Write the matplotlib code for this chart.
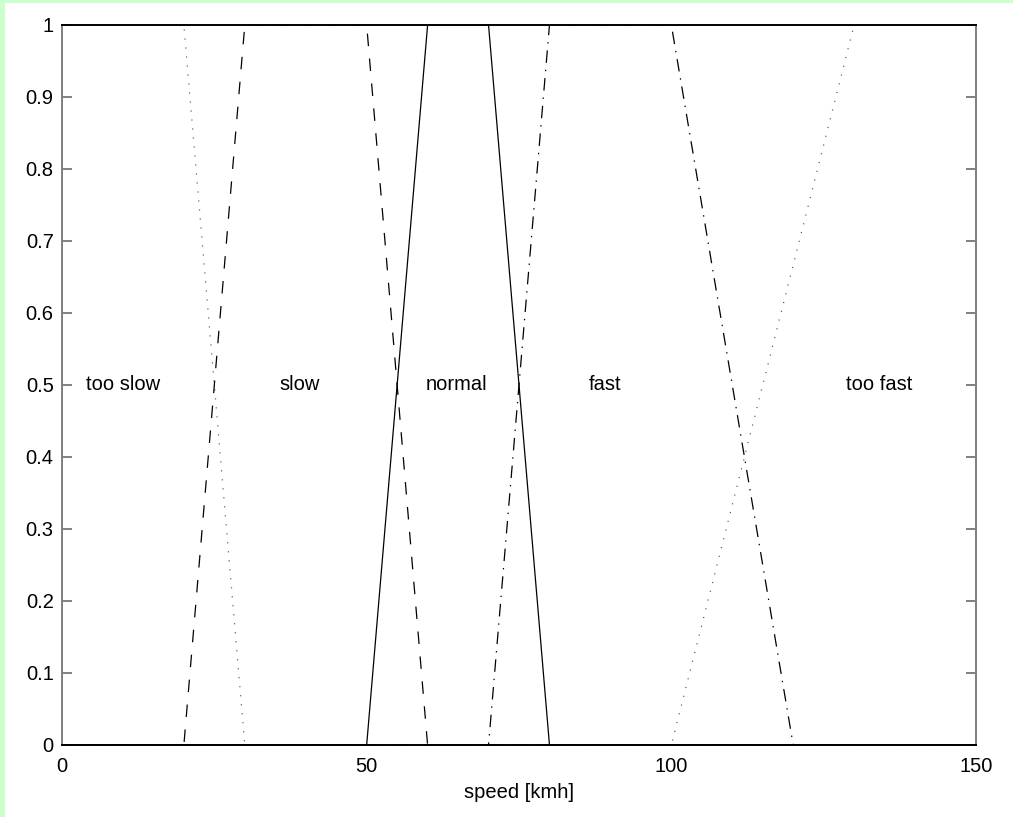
import matplotlib
matplotlib.use("Agg")
from matplotlib import pyplot as plt
from matplotlib.patches import Rectangle

plt.rcParams['font.family'] = ['Liberation Sans', 'DejaVu Sans']
plt.rcParams['lines.scale_dashes'] = False

# membership functions (speed in kmh)
too_slow_x = [0, 20, 30, 150]
too_slow_y = [1, 1, 0, 0]
slow_x = [0, 20, 30, 50, 60, 150]
slow_y = [0, 0, 1, 1, 0, 0]
normal_x = [0, 50, 60, 70, 80, 150]
normal_y = [0, 0, 1, 1, 0, 0]
fast_x = [0, 70, 80, 100, 120, 150]
fast_y = [0, 0, 1, 1, 0, 0]
too_fast_x = [0, 100, 130, 150]
too_fast_y = [0, 0, 1, 1]

label_names = ['too slow', 'slow', 'normal', 'fast', 'too fast']
label_x = [10, 39, 64.7, 89.2, 134.1]
label_y = 0.5

fig = plt.figure(figsize=(10.13, 8.17), dpi=100, facecolor='white')
# light green frame at the left/top edge
fig.patches.append(Rectangle((0, 0), 5 / 1013, 1, transform=fig.transFigure,
                             facecolor='#ccffcc', edgecolor='none', zorder=0))
fig.patches.append(Rectangle((0, 1 - 3 / 817), 1, 3 / 817, transform=fig.transFigure,
                             facecolor='#ccffcc', edgecolor='none', zorder=0))

ax = fig.add_axes([62 / 1013, 1 - 745 / 817, (976 - 62) / 1013, (745 - 25) / 817])

lw = 0.9
ax.plot(too_slow_x, too_slow_y, color='#555555', lw=lw, linestyle=(0, (0.8, 5.7)))
ax.plot(slow_x, slow_y, color='black', lw=lw, linestyle=(0, (9, 9)))
ax.plot(normal_x, normal_y, color='black', lw=lw, linestyle='-')
ax.plot(fast_x, fast_y, color='black', lw=lw, linestyle=(0, (9, 5, 1, 5)))
ax.plot(too_fast_x, too_fast_y, color='#555555', lw=lw, linestyle=(0, (0.8, 5.7)))

for name, xpos in zip(label_names, label_x):
    ax.text(xpos, label_y, name, ha='center', va='center', fontsize=14.5)

ax.set_xlim(0, 150)
ax.set_ylim(0, 1)
ax.set_xticks([0, 50, 100, 150])
ax.set_yticks([0, 0.1, 0.2, 0.3, 0.4, 0.5, 0.6, 0.7, 0.8, 0.9, 1])
ax.set_yticklabels(['0', '0.1', '0.2', '0.3', '0.4', '0.5', '0.6', '0.7', '0.8', '0.9', '1'])
ax.set_xlabel('speed [kmh]', fontsize=14.5, labelpad=5)

ax.spines['top'].set_color('black')
ax.spines['bottom'].set_color('black')
ax.spines['left'].set_color('#808080')
ax.spines['right'].set_color('#808080')
for s in ax.spines.values():
    s.set_linewidth(1.4)

ax.tick_params(axis='y', direction='in', left=True, right=True, length=7,
               width=1.4, color='#808080', labelsize=14.5, pad=6)
ax.tick_params(axis='x', length=0, labelsize=14.5, pad=9)

fig.savefig('out.png', dpi=100)
